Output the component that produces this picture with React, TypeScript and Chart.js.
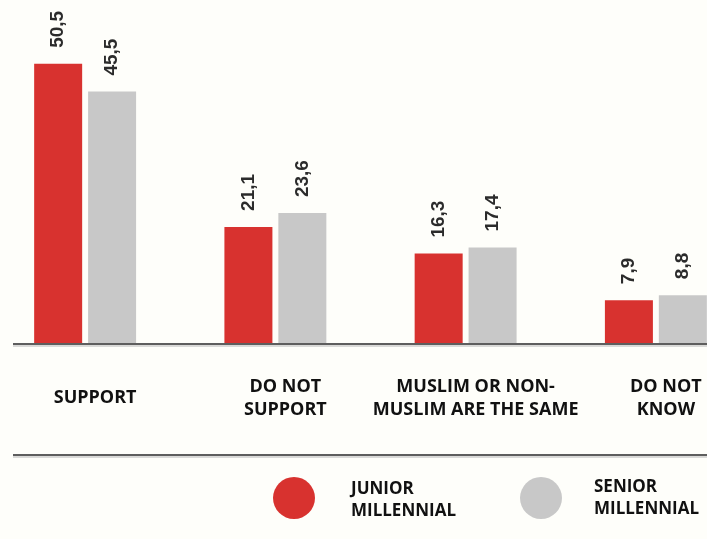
import React, { useEffect, useRef } from "react";
import { Chart, registerables } from "chart.js";

Chart.register(...registerables);

const categories: string[][] = [
  ["SUPPORT"],
  ["DO NOT", "SUPPORT"],
  ["MUSLIM OR NON-", "MUSLIM ARE THE SAME"],
  ["DO NOT", "KNOW"],
];
const juniorValues = [50.5, 21.1, 16.3, 7.9];
const seniorValues = [45.5, 23.6, 17.4, 8.8];
const juniorName = ["JUNIOR", "MILLENNIAL"];
const seniorName = ["SENIOR", "MILLENNIAL"];

const RED = "#d8322f";
const GRAY = "#c8c8c8";
const BG = "#fefefa";
const SHIFT = 10; // canvas is shifted left by this many px

const fmt = (v: number) => v.toFixed(1).replace(".", ",");

const decorPlugin = {
  id: "decor",
  beforeDraw(chart: any) {
    const { ctx, width, height } = chart;
    ctx.save();
    ctx.fillStyle = BG;
    ctx.fillRect(0, 0, width, height);
    ctx.restore();
  },
  afterDatasetsDraw(chart: any) {
    const { ctx } = chart;
    ctx.save();
    ctx.fillStyle = "#2b2b2b";
    ctx.font = "bold 19px 'Liberation Sans', Arial, sans-serif";
    ctx.textAlign = "left";
    ctx.textBaseline = "middle";
    chart.data.datasets.forEach((ds: any, di: number) => {
      const meta = chart.getDatasetMeta(di);
      meta.data.forEach((bar: any, i: number) => {
        ctx.save();
        ctx.translate(bar.x, bar.y - 16);
        ctx.rotate(-Math.PI / 2);
        ctx.fillText(fmt(ds.data[i]), 0, 0);
        ctx.restore();
      });
    });
    ctx.restore();
  },
  afterDraw(chart: any) {
    const { ctx, chartArea, width } = chart;
    const xs = chart.scales.x;
    ctx.save();
    // axis line and separator line
    const drawLine = (y: number) => {
      ctx.strokeStyle = "#b5b5b5";
      ctx.lineWidth = 1;
      ctx.beginPath();
      ctx.moveTo(13 + SHIFT, y + 2);
      ctx.lineTo(width, y + 2);
      ctx.stroke();
      ctx.strokeStyle = "#5e5e5e";
      ctx.lineWidth = 2;
      ctx.beginPath();
      ctx.moveTo(13 + SHIFT, y);
      ctx.lineTo(width, y);
      ctx.stroke();
    };
    drawLine(chartArea.bottom);
    drawLine(455);

    // category labels
    ctx.fillStyle = "#111";
    ctx.font = "bold 18px 'Open Sans', sans-serif";
    ctx.textAlign = "center";
    ctx.textBaseline = "middle";
    categories.forEach((lines, i) => {
      const cx = xs.getPixelForValue(i) + 10;
      const lh = 23;
      const y0 = 398 - ((lines.length - 1) * lh) / 2;
      lines.forEach((t, j) => ctx.fillText(t, cx, y0 + j * lh));
    });

    // legend
    const legend = [
      { color: RED, name: juniorName, cx: 294, tx: 351 },
      { color: GRAY, name: seniorName, cx: 541, tx: 594 },
    ];
    legend.forEach((l, k) => {
      ctx.fillStyle = l.color;
      ctx.beginPath();
      ctx.ellipse(l.cx + SHIFT, 498, 21, 21, 0, 0, Math.PI * 2);
      ctx.fill();
      ctx.fillStyle = "#111";
      ctx.textAlign = "left";
      ctx.font = "bold 17px 'Open Sans', sans-serif";
      const baseY = k === 0 ? 489 : 487;
      l.name.forEach((t, j) => ctx.fillText(t, l.tx + SHIFT, baseY + j * 22));
    });
    ctx.restore();
  },
};

export default function App() {
  const ref = useRef<HTMLCanvasElement | null>(null);
  useEffect(() => {
    if (!ref.current) return;
    const chart = new Chart(ref.current, {
      type: "bar",
      data: {
        labels: categories.map((c) => c.join(" ")),
        datasets: [
          {
            label: juniorName.join(" "),
            data: juniorValues,
            backgroundColor: RED,
            categoryPercentage: 0.567,
            barPercentage: 0.89,
          },
          {
            label: seniorName.join(" "),
            data: seniorValues,
            backgroundColor: GRAY,
            categoryPercentage: 0.567,
            barPercentage: 0.89,
          },
        ],
      },
      options: {
        animation: false,
        responsive: true,
        maintainAspectRatio: false,
        layout: { padding: { top: 0, bottom: 539 - 344, left: 0, right: 0 } },
        plugins: { legend: { display: false }, tooltip: { enabled: false } },
        scales: {
          x: { display: false, offset: true },
          y: { display: false, min: 0, max: 62 },
        },
      },
      plugins: [decorPlugin],
    });
    return () => chart.destroy();
  }, []);
  return (
    <div
      style={{
        position: "fixed",
        left: 0,
        top: 0,
        width: 707,
        height: 539,
        overflow: "hidden",
        background: BG,
      }}
    >
      <div style={{ position: "absolute", left: -SHIFT, top: 0, width: 761, height: 539 }}>
        <canvas ref={ref} />
      </div>
    </div>
  );
}
